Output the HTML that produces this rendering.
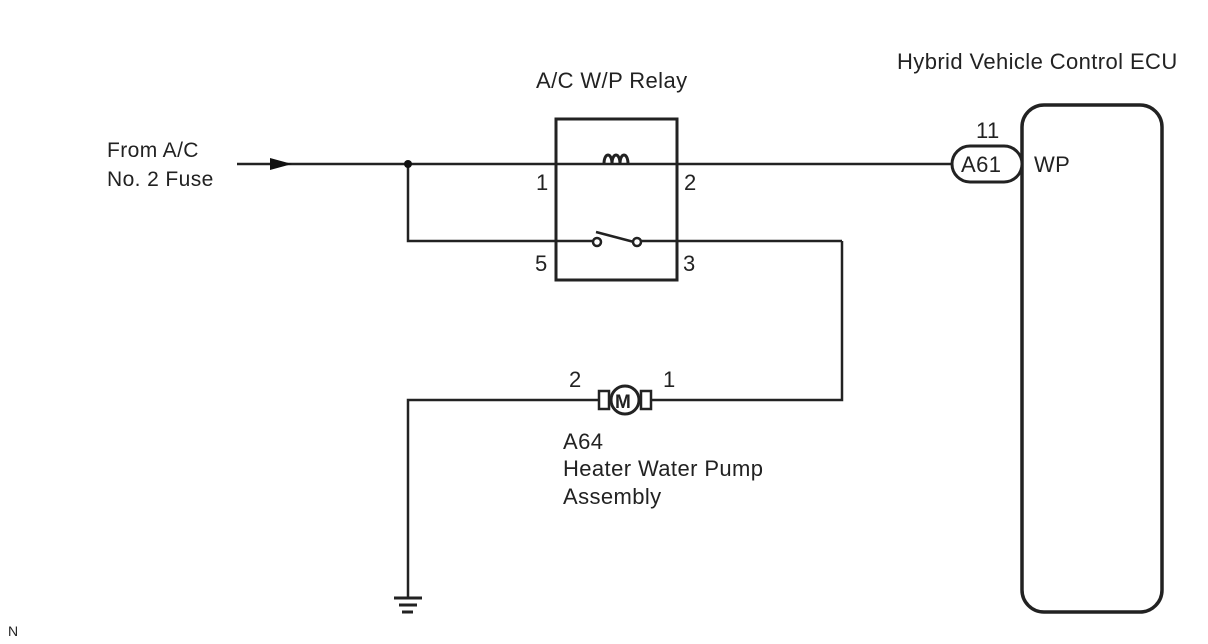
<!DOCTYPE html>
<html><head><meta charset="utf-8"><style>
html,body{margin:0;padding:0;background:#fff}
svg{display:block}
text{font-family:"Liberation Sans",Arial,sans-serif;font-size:22px;letter-spacing:0.4px;fill:#222}
</style></head><body>
<svg width="1208" height="644" viewBox="0 0 1208 644" xmlns="http://www.w3.org/2000/svg">
<g stroke="#222" stroke-width="2.5" fill="none">
<line x1="237" y1="164" x2="953" y2="164"/>
<polyline points="408,164 408,241 593,241"/>
<line x1="641" y1="241" x2="842" y2="241"/>
<polyline points="842,241 842,400 652,400"/>
<polyline points="598,400 408,400 408,597"/>
<line x1="394" y1="598" x2="422" y2="598" stroke-width="3"/>
<line x1="399" y1="605" x2="417" y2="605" stroke-width="3"/>
<line x1="402" y1="612" x2="413" y2="612" stroke-width="3"/>
<rect x="556" y="119" width="121" height="161" stroke-width="3"/>
<line x1="596" y1="232" x2="634" y2="242" stroke-width="2.5"/>
<circle cx="597" cy="242" r="4" fill="#fff"/>
<circle cx="637" cy="242" r="4" fill="#fff"/>
<path d="M604 164 C604 152 612 152 612 164 M612 164 C612 152 620 152 620 164 M620 164 C620 152 628 152 628 164" stroke-width="3"/>
<rect x="1022" y="105" width="140" height="507" rx="22" stroke-width="3.5"/>
<rect x="952" y="146" width="70" height="36" rx="18" fill="#fff" stroke-width="3"/>
<rect x="599" y="391" width="10" height="18" stroke-width="2.5"/>
<rect x="641" y="391" width="10" height="18" stroke-width="2.5"/>
<circle cx="625" cy="400" r="14" fill="#fff" stroke-width="3"/>
</g>
<polygon points="270,158 292,164 270,170" fill="#111"/>
<circle cx="408" cy="164" r="4" fill="#111"/>
<text x="107" y="157" style="font-size:21px">From A/C</text>
<text x="107" y="186" style="font-size:21px">No. 2 Fuse</text>
<text x="536" y="88">A/C W/P Relay</text>
<text x="897" y="69">Hybrid Vehicle Control ECU</text>
<text x="536" y="190">1</text>
<text x="684" y="190">2</text>
<text x="535" y="271">5</text>
<text x="683" y="271">3</text>
<text x="976" y="138">11</text>
<text x="961" y="172">A61</text>
<text x="1034" y="172">WP</text>
<text x="569" y="387">2</text>
<text x="663" y="387">1</text>
<text x="615" y="408" style="font-weight:bold;font-size:19px;letter-spacing:0">M</text>
<text x="563" y="449">A64</text>
<text x="563" y="476">Heater Water Pump</text>
<text x="563" y="504">Assembly</text>
<text x="8" y="636" style="font-size:14px;letter-spacing:0">N</text>
</svg>
</body></html>
